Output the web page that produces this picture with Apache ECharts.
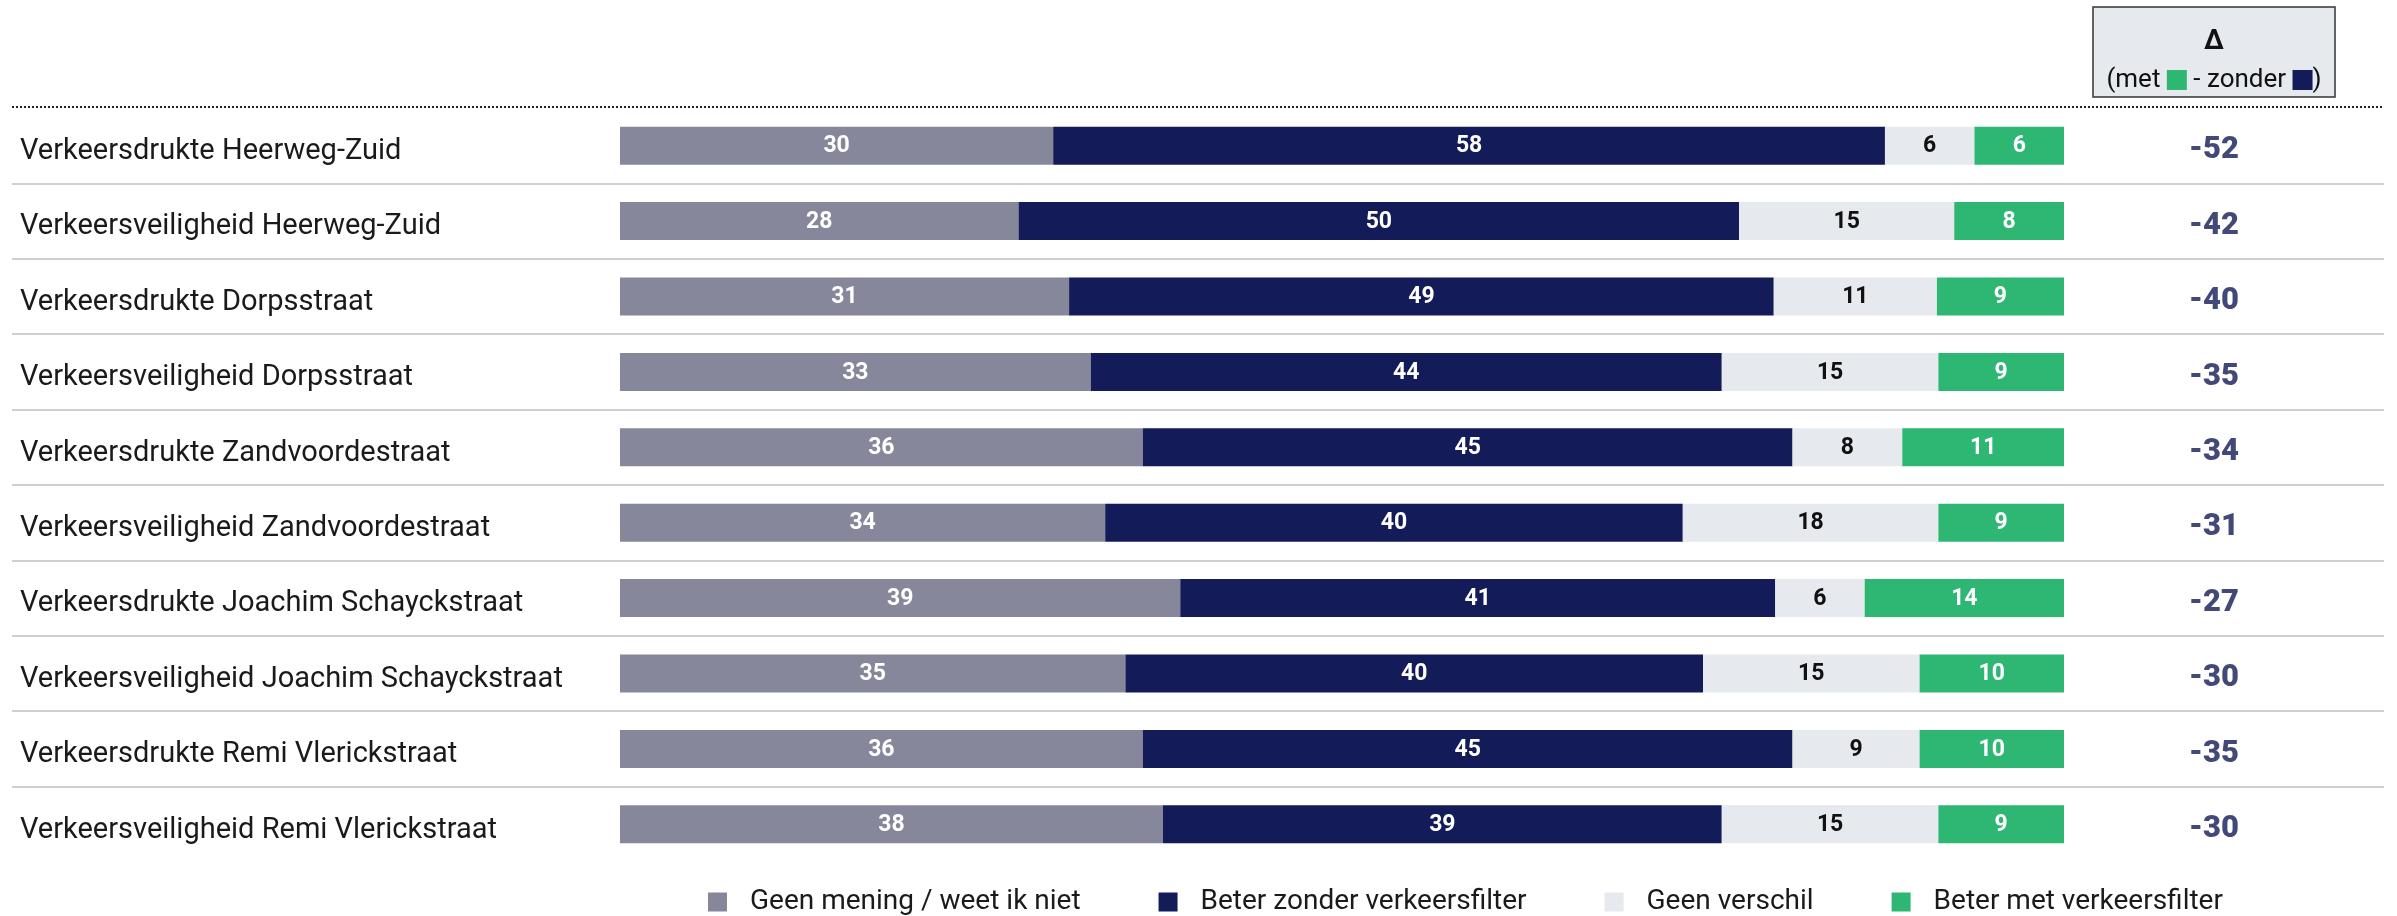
<!DOCTYPE html>
<html>
<head>
<meta charset="utf-8">
<script src="https://cdn.jsdelivr.net/npm/echarts@6/dist/echarts.min.js"></script>
<style>
html,body{margin:0;padding:0;background:#fff;}
#chart{width:2397px;height:916px;}
</style>
</head>
<body>
<div id="chart"></div>
<script>
const categories = [
  'Verkeersdrukte Heerweg-Zuid',
  'Verkeersveiligheid Heerweg-Zuid',
  'Verkeersdrukte Dorpsstraat',
  'Verkeersveiligheid Dorpsstraat',
  'Verkeersdrukte Zandvoordestraat',
  'Verkeersveiligheid Zandvoordestraat',
  'Verkeersdrukte Joachim Schayckstraat',
  'Verkeersveiligheid Joachim Schayckstraat',
  'Verkeersdrukte Remi Vlerickstraat',
  'Verkeersveiligheid Remi Vlerickstraat'
];
const geenMening = [30, 27.6, 31.1, 32.6, 36.2, 33.6, 38.8, 35.0, 36.2, 37.6];
const beterZonder = [57.6, 49.9, 48.8, 43.7, 45.0, 40.0, 41.2, 40.0, 45.0, 38.7];
const geenVerschil = [6.2, 14.9, 11.3, 15.0, 7.6, 17.7, 6.2, 15.0, 8.8, 15.0];
const beterMet = [6.2, 7.6, 8.8, 8.7, 11.2, 8.7, 13.8, 10.0, 10.0, 8.7];
const deltas = [-52, -42, -40, -35, -34, -31, -27, -30, -35, -30];
const seriesNames = ['Geen mening / weet ik niet', 'Beter zonder verkeersfilter', 'Geen verschil', 'Beter met verkeersfilter'];
const colors = ['#87879c', '#131b58', '#e6e9ee', '#2eb673'];
const labelColors = ['#ffffff', '#ffffff', '#111111', '#ffffff'];

const FONT = 'Roboto';
const chart = echarts.init(document.getElementById('chart'), null, {renderer: 'canvas'});

const TOP = 108, BOTTOM = 54;

const seriesData = [geenMening, beterZonder, geenVerschil, beterMet];
const barSeries = seriesData.map((arr, i) => ({
  name: seriesNames[i],
  type: 'bar',
  stack: 'total',
  xAxisIndex: 1,
  yAxisIndex: 1,
  barWidth: 38,
  itemStyle: {color: colors[i]},
  label: {
    show: true,
    position: 'inside',
    color: labelColors[i],
    fontFamily: FONT,
    fontWeight: 'bold',
    fontSize: 23,
    offset: [0, 1],
    formatter: p => Math.round(p.value)
  },
  emphasis: {disabled: true},
  data: arr
}));

const option = {
  animation: false,
  backgroundColor: '#ffffff',
  textStyle: {fontFamily: FONT},
  grid: [
    {left: 12, right: 13, top: TOP, bottom: BOTTOM},
    {left: 620, right: 333, top: TOP, bottom: BOTTOM},
    {left: 2094, width: 240, top: TOP, bottom: BOTTOM}
  ],
  xAxis: [
    {gridIndex: 0, type: 'value', min: 0, max: 1, show: false},
    {gridIndex: 1, type: 'value', min: 0, max: 100, show: false},
    {gridIndex: 2, type: 'value', min: 0, max: 1, show: false}
  ],
  yAxis: [
    {
      gridIndex: 0, type: 'category', inverse: true, data: categories,
      axisLine: {show: false}, axisTick: {show: false}, axisLabel: {show: false},
      splitLine: {show: true, lineStyle: {width: 2, color: ['transparent', '#cfcfcf', '#cfcfcf', '#cfcfcf', '#cfcfcf', '#cfcfcf', '#cfcfcf', '#cfcfcf', '#cfcfcf', '#cfcfcf', 'transparent']}}
    },
    {
      gridIndex: 1, type: 'category', inverse: true, data: categories,
      axisLine: {show: false}, axisTick: {show: false},
      axisLabel: {
        align: 'left', margin: 600,
        formatter: v => '{a|' + v + '}',
        rich: {a: {fontSize: 29, color: '#1a1a1a', fontFamily: FONT, padding: [12, 0, 0, 0]}}
      }
    },
    {
      gridIndex: 2, type: 'category', inverse: true, data: categories, show: false
    }
  ],
  legend: {
    left: 703,
    top: 883,
    itemWidth: 19,
    itemHeight: 19,
    itemGap: 78,
    icon: 'rect',
    data: seriesNames,
    textStyle: {fontSize: 28, color: '#1a1a1a', fontFamily: FONT, padding: [0, 0, 0, 18]},
    selectedMode: false
  },
  series: barSeries.concat([{
    type: 'scatter',
    xAxisIndex: 2,
    yAxisIndex: 2,
    symbolSize: 1,
    itemStyle: {color: 'transparent'},
    label: {
      show: true,
      position: 'inside',
      color: '#131b58',
      fontWeight: 900,
      fontSize: 31,
      fontFamily: FONT,
      offset: [0, 5],
      formatter: p => deltas[p.dataIndex]
    },
    data: categories.map((c, i) => [0.5, c])
  }]),
  graphic: [
    {
      type: 'line',
      shape: {x1: 12, y1: 107, x2: 2384, y2: 107},
      style: {stroke: '#222', lineWidth: 2, lineDash: [2, 2]}
    },
    {
      type: 'rect',
      shape: {x: 2093, y: 7, width: 242, height: 90},
      style: {fill: '#e6e9ee', stroke: '#333', lineWidth: 1.5}
    },
    {
      type: 'text',
      x: 2214, y: 42,
      style: {text: 'Δ', font: 'bold 27px ' + FONT, fill: '#111', align: 'center', verticalAlign: 'middle'}
    },
    {
      type: 'text',
      x: 2214, y: 80,
      style: {
        text: '(met {g|} - zonder {n|})',
        fontSize: 26, fontFamily: FONT, fill: '#111', align: 'center', verticalAlign: 'middle',
        rich: {
          g: {width: 20, height: 20, backgroundColor: '#2eb673'},
          n: {width: 20, height: 20, backgroundColor: '#131b58'}
        }
      }
    }
  ]
};
chart.setOption(option);
</script>
</body>
</html>
